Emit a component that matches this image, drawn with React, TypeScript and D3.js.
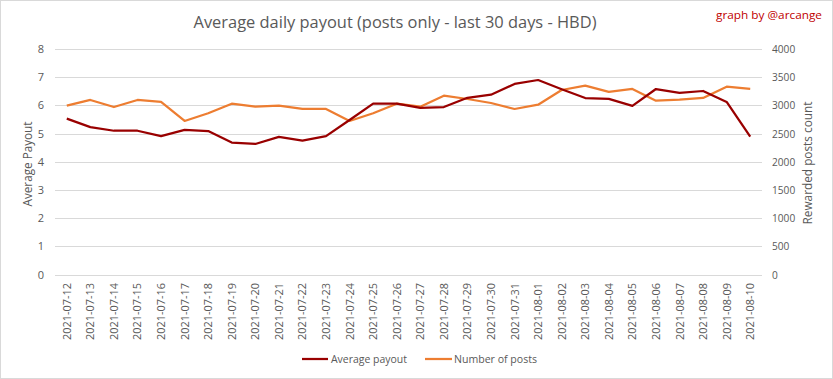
import React from "react";
import * as d3 from "d3";

const categories = [
  "2021-07-12","2021-07-13","2021-07-14","2021-07-15","2021-07-16","2021-07-17","2021-07-18",
  "2021-07-19","2021-07-20","2021-07-21","2021-07-22","2021-07-23","2021-07-24","2021-07-25",
  "2021-07-26","2021-07-27","2021-07-28","2021-07-29","2021-07-30","2021-07-31","2021-08-01",
  "2021-08-02","2021-08-03","2021-08-04","2021-08-05","2021-08-06","2021-08-07","2021-08-08",
  "2021-08-09","2021-08-10",
];
const averagePayout = [
  5.53, 5.23, 5.10, 5.10, 4.91, 5.13, 5.09, 4.68, 4.63, 4.88, 4.75, 4.91, 5.48, 6.06, 6.06,
  5.91, 5.94, 6.27, 6.38, 6.76, 6.90, 6.57, 6.26, 6.23, 5.98, 6.58, 6.44, 6.51, 6.12, 4.89,
];
const numberOfPosts = [
  2995, 3096, 2971, 3096, 3060, 2723, 2860, 3030, 2977, 2995, 2936, 2936, 2723, 2860, 3030,
  2977, 3172, 3113, 3042, 2936, 3012, 3273, 3350, 3238, 3291, 3084, 3101, 3131, 3332, 3291,
];
const leftTicks = [0, 1, 2, 3, 4, 5, 6, 7, 8];
const rightTicks = [0, 500, 1000, 1500, 2000, 2500, 3000, 3500, 4000];
const seriesNames = ["Average payout", "Number of posts"];

const W = 833, H = 379;
const plot = { left: 55, right: 762, top: 49, bottom: 274.5 };
const FONT = "'Open Sans', 'Noto Sans', sans-serif";
const GREY = "#595959";
const RED = "#990000";
const ORANGE = "#ED7D31";

export default function App() {
  const x = d3.scaleBand<string>().domain(categories).range([plot.left, plot.right]);
  const yL = d3.scaleLinear().domain([0, 8]).range([plot.bottom, plot.top]);
  const yR = d3.scaleLinear().domain([0, 4000]).range([plot.bottom, plot.top]);
  const cx = (c: string) => (x(c) as number) + x.bandwidth() / 2;

  const lineL = d3.line<number>().x((_, i) => cx(categories[i])).y((d) => yL(d));
  const lineR = d3.line<number>().x((_, i) => cx(categories[i])).y((d) => yR(d));

  return (
    <svg width={W} height={H} style={{ position: "absolute", left: 0, top: 0, background: "#fff" }} fontFamily={FONT}>
      <rect x={0.5} y={0.5} width={W - 1} height={H - 1} fill="#fff" stroke="#D9D9D9" />
      <text x={395} y={28} textAnchor="middle" fontSize={17} fill={GREY} textLength={403} lengthAdjust="spacingAndGlyphs">
        Average daily payout (posts only - last 30 days - HBD)
      </text>
      <text x={822} y={19} textAnchor="end" fontSize={11} fill="#C00000" textLength={106} lengthAdjust="spacingAndGlyphs">
        graph by @arcange
      </text>

      {leftTicks.map((t) => (
        <g key={"g" + t}>
          <line x1={plot.left} x2={plot.right} y1={Math.round(yL(t)) + 0.5} y2={Math.round(yL(t)) + 0.5} stroke="#D9D9D9" strokeWidth={1} />
          <text x={44} y={yL(t) + 4} textAnchor="end" fontSize={11} fill={GREY}>{t}</text>
        </g>
      ))}
      {rightTicks.map((t) => (
        <text key={"r" + t} x={772} y={yR(t) + 4} textAnchor="start" fontSize={11} fill={GREY}
          textLength={String(t).length * 5.8} lengthAdjust="spacingAndGlyphs">{t}</text>
      ))}

      <text transform={`translate(32,164) rotate(-90)`} textAnchor="middle" fontSize={12} fill={GREY}
        textLength={85} lengthAdjust="spacingAndGlyphs">Average Payout</text>
      <text transform={`translate(812,163) rotate(-90)`} textAnchor="middle" fontSize={12} fill={GREY}
        textLength={123} lengthAdjust="spacingAndGlyphs">Rewarded posts count</text>

      {categories.map((c) => (
        <text key={c} transform={`translate(${cx(c) + 4},283) rotate(-90)`} textAnchor="end" fontSize={11} fill={GREY}
          textLength={57} lengthAdjust="spacingAndGlyphs">{c}</text>
      ))}

      <path d={lineR(numberOfPosts) || ""} fill="none" stroke={ORANGE} strokeWidth={2.25} strokeLinejoin="round" />
      <path d={lineL(averagePayout) || ""} fill="none" stroke={RED} strokeWidth={2.25} strokeLinejoin="round" />

      <line x1={302} x2={328} y1={359} y2={359} stroke={RED} strokeWidth={2.25} />
      <text x={331} y={363} fontSize={11.5} fill={GREY} textLength={76} lengthAdjust="spacingAndGlyphs">{seriesNames[0]}</text>
      <line x1={425} x2={452} y1={359} y2={359} stroke={ORANGE} strokeWidth={2.25} />
      <text x={454} y={363} fontSize={11.5} fill={GREY} textLength={83} lengthAdjust="spacingAndGlyphs">{seriesNames[1]}</text>
    </svg>
  );
}
